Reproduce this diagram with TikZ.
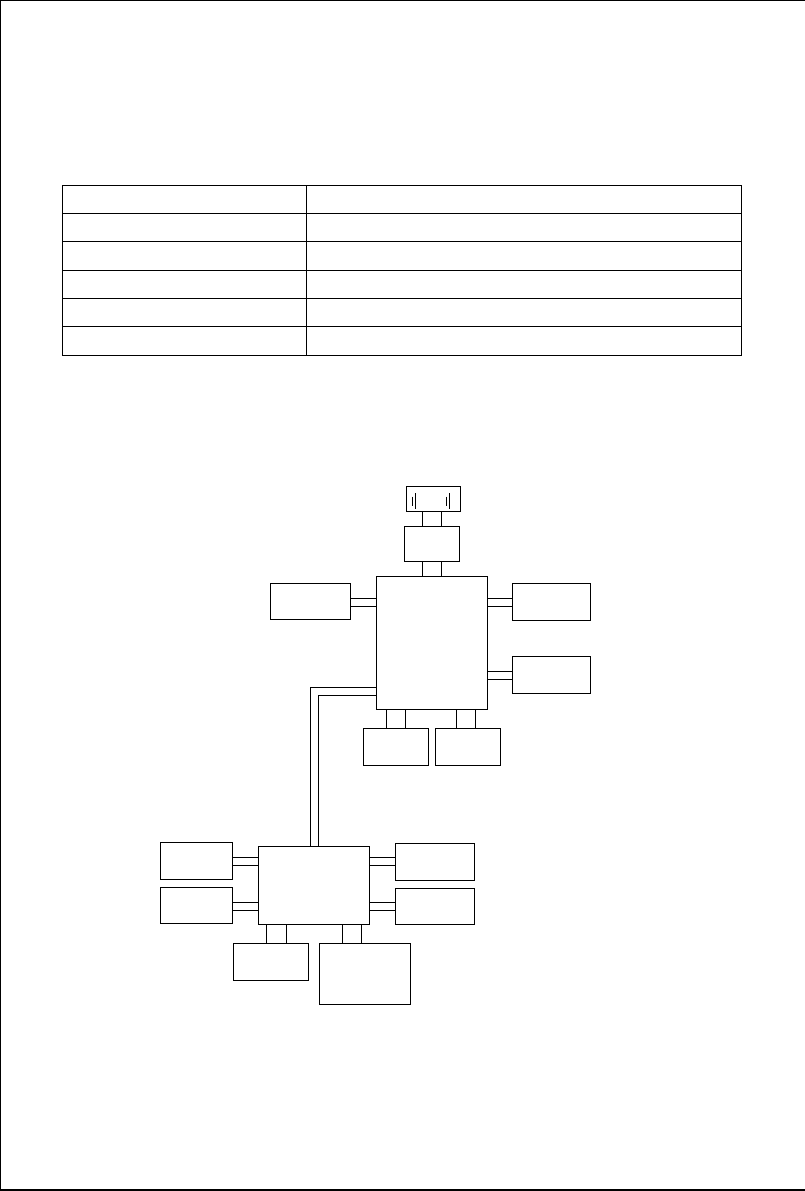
\documentclass[tikz,border=0pt]{standalone}
\newcommand\mkbox[5]{\node[box, minimum width={(#4-#2)*1pt}, minimum height={(#5-#3)*1pt}] (#1) at ({(#2+#4)/2},{(#3+#5)/2}) {};}
\begin{document}
\begin{tikzpicture}[x=1pt,y=-1pt,
  box/.style={draw, rectangle, line width=0.8pt, inner sep=0pt, outer sep=0pt},
  wire/.style={line width=0.8pt},
  frame/.style={line width=1.3pt},
  grid/.style={line width=0.9pt}]
\useasboundingbox (0,0) rectangle (805,1191);
% page frame
\draw[frame] (0.6,0) -- (0.6,1191);
\draw[frame] (0,0.6) -- (805,0.6);
\draw[frame] (0,1190) -- (805,1190);
% table
\draw[grid] (62.3,185.3) rectangle (741.7,355.3);
\foreach \yy in {213.3,241.6,270.0,298.3,326.6} \draw[grid] (62.3,\yy) -- (741.7,\yy);
\draw[grid] (306.5,185.3) -- (306.5,355.3);
% upper group
\mkbox{T}{406.3}{486.7}{460.3}{511.7}
\draw[wire] (412,496.7) -- (412,506);
\draw[wire] (415,493) -- (415,509);
\draw[wire] (446,496.7) -- (446,506);
\draw[wire] (449.3,493) -- (449.3,509);
\mkbox{S}{404.3}{526.3}{459.3}{561}
\mkbox{M}{376.3}{576.3}{487.3}{709}
\mkbox{A}{270.3}{583.3}{350.3}{619.3}
\mkbox{B}{512.3}{583.3}{590.3}{620.3}
\mkbox{C}{512.3}{656.3}{590.3}{693.3}
\mkbox{D}{363.3}{728.3}{428.3}{765.3}
\mkbox{E}{435.3}{728.3}{500.3}{765.3}
\foreach \xx in {422.3,441.3} {
  \draw[wire] (T.south -| \xx,0) -- (S.north -| \xx,0);
  \draw[wire] (S.south -| \xx,0) -- (M.north -| \xx,0);
}
\foreach \yy in {598.3,606} {
  \draw[wire] (A.east |- 0,\yy) -- (M.west |- 0,\yy);
  \draw[wire] (M.east |- 0,\yy) -- (B.west |- 0,\yy);
}
\foreach \yy in {671.3,679} \draw[wire] (M.east |- 0,\yy) -- (C.west |- 0,\yy);
\foreach \xx in {386.7,405.3} \draw[wire] (M.south -| \xx,0) -- (D.north -| \xx,0);
\foreach \xx in {456.7,475.3} \draw[wire] (M.south -| \xx,0) -- (E.north -| \xx,0);
% lower group
\mkbox{N}{258.3}{846.3}{369.3}{924.3}
\mkbox{F}{160.3}{842.3}{232.3}{879.3}
\mkbox{G}{160.3}{887.3}{232.3}{923.3}
\mkbox{H}{395.3}{843.3}{474.3}{880.3}
\mkbox{I}{395.3}{888.3}{474.3}{924.3}
\mkbox{J}{233.3}{943.3}{308.3}{980.3}
\mkbox{K}{319.3}{943.3}{410.3}{1004.3}
\foreach \yy in {857.3,865} {
  \draw[wire] (F.east |- 0,\yy) -- (N.west |- 0,\yy);
  \draw[wire] (N.east |- 0,\yy) -- (H.west |- 0,\yy);
}
\foreach \yy in {902.3,910} {
  \draw[wire] (G.east |- 0,\yy) -- (N.west |- 0,\yy);
  \draw[wire] (N.east |- 0,\yy) -- (I.west |- 0,\yy);
}
\foreach \xx in {266.3,286.3} \draw[wire] (N.south -| \xx,0) -- (J.north -| \xx,0);
\foreach \xx in {342.3,361.3} \draw[wire] (N.south -| \xx,0) -- (K.north -| \xx,0);
% long link between the two groups
\draw[wire] (M.west |- 0,687.3) -- (310.7,687.3) -- (N.north -| 310.7,0);
\draw[wire] (M.west |- 0,695.3) -- (318.3,695.3) -- (N.north -| 318.3,0);
\end{tikzpicture}
\end{document}
